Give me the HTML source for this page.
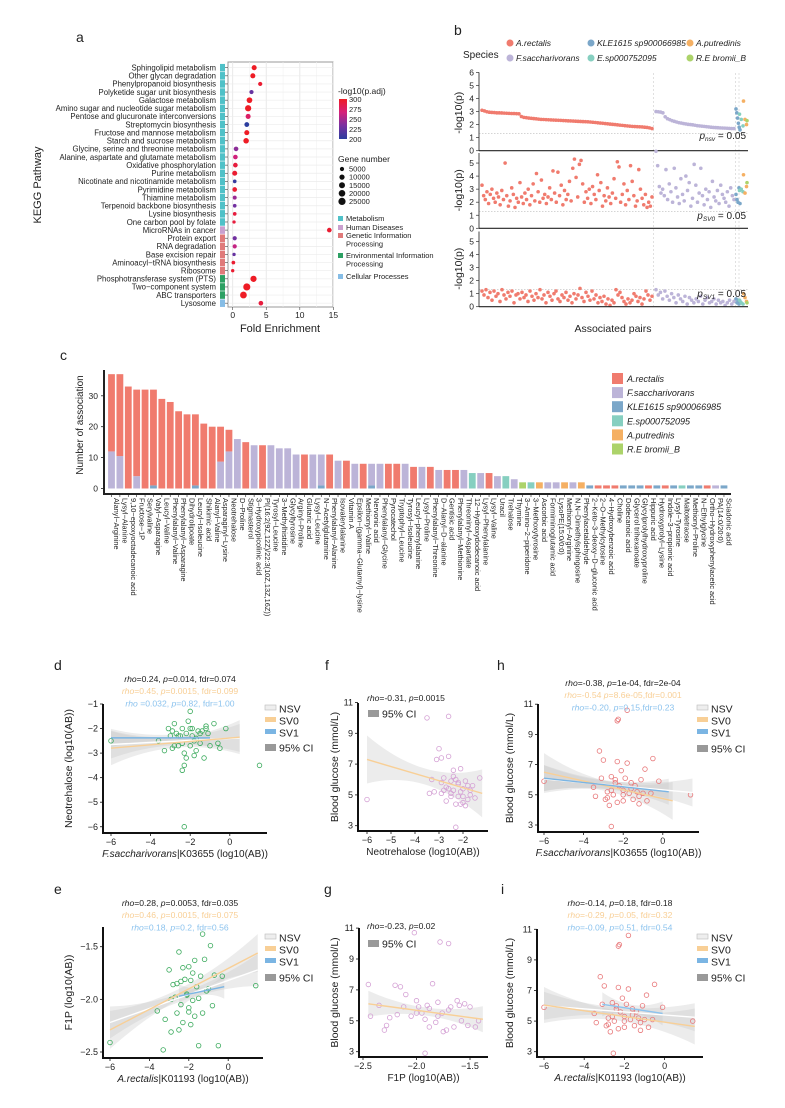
<!DOCTYPE html>
<html><head><meta charset="utf-8">
<style>
html,body{margin:0;padding:0;background:#fff;}
svg{display:block;font-family:"Liberation Sans",Arial,sans-serif;}
</style></head>
<body>
<svg id="fig" xmlns="http://www.w3.org/2000/svg" width="785" height="1108" viewBox="0 0 785 1108"></svg>
<script>
// ---------------- Panel a data ----------------
const aPathways=["Sphingolipid metabolism","Other glycan degradation","Phenylpropanoid biosynthesis","Polyketide sugar unit biosynthesis","Galactose metabolism","Amino sugar and nucleotide sugar metabolism","Pentose and glucuronate interconversions","Streptomycin biosynthesis","Fructose and mannose metabolism","Starch and sucrose metabolism","Glycine, serine and threonine metabolism","Alanine, aspartate and glutamate metabolism","Oxidative phosphorylation","Purine metabolism","Nicotinate and nicotinamide metabolism","Pyrimidine metabolism","Thiamine metabolism","Terpenoid backbone biosynthesis","Lysine biosynthesis","One carbon pool by folate","MicroRNAs in cancer","Protein export","RNA degradation","Base excision repair","Aminoacyl\u2212tRNA biosynthesis","Ribosome","Phosphotransferase system (PTS)","Two\u2212component system","ABC transporters","Lysosome"];
const aFold=[3.2,3.0,4.1,2.8,2.5,2.3,2.3,2.1,2.1,2.0,0.5,0.4,0.4,0.3,0.3,0.3,0.3,0.3,0.3,0.2,14.4,0.3,0.3,0.2,0.1,0.0,3.1,2.1,1.6,4.2];
const aGenes=[9000,9000,5000,5000,13000,17000,9000,8000,9000,12000,7000,7000,7000,9000,3000,7000,4000,3000,3000,2000,7000,5000,5000,2000,3000,2000,17000,24000,21000,7000];
const aPadj=[300,300,295,225,300,300,275,200,300,300,240,265,290,295,205,295,245,230,290,290,295,230,260,225,295,295,300,300,300,290];
const aCategory=[0,0,0,0,0,0,0,0,0,0,0,0,0,0,0,0,0,0,0,0,1,2,2,2,2,2,3,3,3,4];
const aCatNames=["Metabolism","Human Diseases","Genetic Information|Processing","Environmental Information|Processing","Cellular Processes"];
const aXTicks=[0,5,10,15];
const aColorTicks=[300,275,250,225,200];
const aSizeTicks=[5000,10000,15000,20000,25000];

// ---------------- Panel b data ----------------
const bTopRed=[3.1,3.05,2.98,2.95,2.93,2.92,2.9,2.9,2.89,2.88,2.87,2.86,2.85,2.85,2.84,2.83,2.62,2.55,2.53,2.5,2.48,2.46,2.44,2.42,2.4,2.39,2.38,2.37,2.36,2.35,2.34,2.33,2.32,2.31,2.3,2.29,2.28,2.27,2.26,2.25,2.24,2.23,2.22,2.21,2.2,2.18,2.16,2.14,2.12,2.1,2.08,2.06,2.04,2.02,2.0,1.98,1.96,1.94,1.92,1.9,1.88,1.86,1.85,1.84,1.83,1.82,1.8,1.78,1.75,1.7];
const bTopLav=[3.0,2.98,2.96,2.9,2.6,2.45,2.38,2.3,2.25,2.2,2.15,2.12,2.08,2.05,2.02,2.0,1.98,1.95,1.92,1.9,1.88,1.86,1.84,1.82,1.8,1.78,1.77,1.76,1.75,1.74,1.73,1.72,1.71,1.7,1.7];
const bTopBlue=[3.2,2.9,2.5,2.1,1.8,1.6];
const bTopTeal=[2.8,2.4,1.9];
const bTopOrange=[3.8,2.4,2.0];
const bTopGreen=[2.3];
const bMidRed=[3.3,2.5,2.2,2.8,1.9,2.6,3.0,2.3,2.0,2.7,2.4,1.8,2.9,2.2,5.0,2.5,1.7,2.1,3.1,2.6,1.6,2.3,2.0,3.5,2.4,1.9,2.7,2.2,3.0,1.8,2.5,3.4,2.1,4.2,2.8,2.0,3.7,2.3,2.6,1.9,2.4,3.1,2.2,4.4,2.7,2.0,4.3,2.5,3.3,1.8,2.9,2.2,2.6,3.6,2.1,4.6,5.3,3.9,2.4,4.9,5.2,3.4,2.0,2.8,2.3,3.0,1.9,3.2,2.6,2.2,4.1,2.9,3.5,1.7,2.5,2.1,3.1,2.4,1.9,2.7,3.8,2.3,5.1,4.7,2.0,2.6,3.4,1.8,2.9,2.2,4.8,3.6,2.5,1.7,2.1,4.5,3.0,2.3,1.8,2.6,1.6,2.0,1.7,2.4];
const bMidLav=[5.9,4.8,3.2,2.7,3.0,2.5,4.5,2.2,3.4,2.8,2.0,4.6,3.1,2.4,1.9,3.8,2.6,2.1,4.0,2.9,3.5,1.7,2.3,4.9,3.3,2.0,2.7,4.6,2.5,1.8,3.0,2.2,2.8,1.6,3.6,2.4,2.1,2.9,1.9,3.3,2.6,2.3,2.0,2.8,1.7,3.1,2.5,2.2];
const bMidBlue=[2.6,2.2,2.0,3.1,1.9];
const bMidTeal=[2.9,3.0,2.8];
const bMidOrange=[4.1,2.7,3.2];
const bMidGreen=[3.5];
const bBotRed=[1.2,0.9,1.3,0.7,1.1,0.5,1.2,0.8,1.0,0.4,1.3,0.9,0.6,1.1,0.8,1.2,0.3,0.9,1.0,0.6,1.1,0.7,0.9,0.4,1.2,0.8,0.5,1.0,0.7,1.3,0.6,0.9,0.3,1.1,0.8,0.5,1.0,1.2,0.6,0.4,0.9,0.7,1.1,0.5,0.8,0.3,1.0,0.6,0.9,1.4,0.7,0.4,1.1,0.8,0.5,1.2,0.6,0.9,0.3,0.7,0.4,0.8,0.2,0.6,0.1,0.5,0.3,1.3,0.9,1.1,0.7,0.4,0.2,0.6,0.3,0.5,1.0,0.8,0.4,0.7,0.2,0.6,1.2,0.9,0.5,0.8];
const bBotLav=[1.3,0.9,1.1,0.6,1.2,0.8,0.5,1.0,0.7,0.3,0.9,0.6,0.4,0.8,0.2,0.7,0.5,0.3,0.6,0.4,0.8,0.2,0.5,0.7,0.3,0.4,0.6,0.2,0.5,0.3,0.4,0.1,0.3,0.5,0.2,0.4];
const bBotBlue=[0.6,0.3,0.5,0.2,0.4];
const bBotTeal=[0.5,0.3,0.2];
const bBotOrange=[1.0,0.7,0.4];
const bBotGreen=[0.3];
const bTopTicks=[0,1,2,3,4,5,6];
const bSubTicks=[0,1,2,3,4,5];

// ---------------- Panel c data ----------------
const cNames=["Alanyl\u2212Arginine","Lysyl\u2212Alanine","9,10\u2212epoxyoctadecanoic acid","Fructose\u22121P","Serylvaline","Valyl\u2212Asparagine","Leucyl\u2212Valine","Phenylalanyl\u2212Valine","Phenylalanyl\u2212Asparagine","Dihydrolipoate","Leucyl\u2212Isoleucine","Shikimic acid","Alanyl\u2212Valine","Asparaginyl\u2212Lysine","Neotrehalose","D\u2212Proline","Stigmasterol","3\u2212Hydroxypicolinic acid","PI(16:2(9Z,12Z)/22:3(10Z,13Z,16Z))","Tyrosyl\u2212Leucine","3\u2212Methylhistidine","Glycyltyrosine","Arginyl\u2212Proline","Glutaric acid","Lysyl\u2212Leucine","N\u2212Acetylglutamine","Phenylalanyl\u2212Alanine","Isovalerylalanine","Vitamin A","Epsilon\u2212(gamma\u2212Glutamyl)\u2212lysine","Methionyl\u2212Valine","Nervonic acid","Phenylalanyl\u2212Glycine","Pyrocatechol","Tryptophyl\u2212Leucine","Tyrosyl\u2212Isoleucine","Leucyl\u2212phenylalanine","Lysyl\u2212Proline","Phenylalanyl\u2212Threonine","D\u2212Alanyl\u2212D\u2212alanine","Gentisic acid","Phenylalanyl\u2212Methionine","Threoninyl\u2212Aspartate","12\u2212Hydroxydodecanoic acid","Lysyl\u2212Phenylalanine","Lysyl\u2212Valine","Uracil","Trehalose","Thymine","3\u2212Amino\u22122\u2212piperidone","3\u2212Methoxytyrosine","Ascorbic acid","Formiminoglutamic acid","LysoPE(15:0/0:0)","Methionyl\u2212Arginine","N,N\u2212Dimethylsphingosine","Phenylacetaldehyde","2\u2212Keto\u22123\u2212deoxy\u2212D\u2212gluconic acid","2\u2212O\u2212Methylcytosine","4\u2212Hydroxybenzoic acid","Choline","Dodecanoic acid","Glycerol trihexanoate","Glycylprolylhydroxyproline","Hippuric acid","Hydroxyprolyl\u2212Lysine","Indole\u22123\u2212propionic acid","Lysyl\u2212Tyrosine","Maltotetraose","Methionyl\u2212Proline","N\u2212Ethylglycine","Ortho\u2212Hydroxyphenylacetic acid","PA(14:0/20:0)","Sciadonic acid"];
const cKLE=[0,0,0,0,0,1,0,0,0,0, 1,0,0,0,0,0,0,0,0,0, 0,0,0,0,0,1,0,0,0,0, 0,1,0,0,0,0,0,0,0,0, 0,0,0,0,0,0,0,0,0,0, 0,0,0,0,0,0,0,1,0,0, 0,1,1,1,0,1,0,1,0,1, 1,0,0,1];
const cFsac=[12,10.5,0,4,0,0,0,0,0,0, 0,0,0,8.7,12,16,0,14,0,14, 13,13,11,0,11,10,0,9,0,8, 0,7,8,0,0,8,0,7,0,6, 0,0,6,0,5,0,4,0,3,0, 0,0,2,2,0,2,0,0,0,0, 0,0,0,0,0,0,0,0,0,0, 0,0,1,0];
const cArec=[25,26.5,33,28,32,31,29,28,25,24, 23,21,20,11.3,7,0,15,0,14,0, 0,0,0,11,0,0,11,0,9,0, 8,0,0,8,8,0,7,0,7,0, 6,6,0,0,0,5,0,0,0,0, 0,0,0,0,0,0,0,0,1,1, 1,0,0,0,1,0,1,0,0,0, 0,1,0,0];
const cEsp=[0,0,0,0,0,0,0,0,0,0, 0,0,0,0,0,0,0,0,0,0, 0,0,0,0,0,0,0,0,0,0, 0,0,0,0,0,0,0,0,0,0, 0,0,0,5,0,0,0,4,0,0, 2,0,0,0,0,0,0,0,0,0, 0,0,0,0,0,0,0,0,1,0, 0,0,0,0];
const cAput=[0,0,0,0,0,0,0,0,0,0, 0,0,0,0,0,0,0,0,0,0, 0,0,0,0,0,0,0,0,0,0, 0,0,0,0,0,0,0,0,0,0, 0,0,0,0,0,0,0,0,0,0, 0,2,0,0,2,0,2,0,0,0, 0,0,0,0,0,0,0,0,0,0, 0,0,0,0];
const cRbro=[0,0,0,0,0,0,0,0,0,0, 0,0,0,0,0,0,0,0,0,0, 0,0,0,0,0,0,0,0,0,0, 0,0,0,0,0,0,0,0,0,0, 0,0,0,0,0,0,0,0,0,2, 0,0,0,0,0,0,0,0,0,0, 0,0,0,0,0,0,0,0,0,0, 0,0,0,0];
const cYTicks=[0,10,20,30];
const speciesNames=["A.rectalis","F.saccharivorans","KLE1615 sp900066985","E.sp000752095","A.putredinis","R.E bromii_B"];

// ---------------- Panels d-i data ----------------
const dX=[-6,-3.6,-3.3,-3.1,-3.0,-2.9,-2.8,-2.7,-2.6,-2.5,-2.4,-2.3,-2.3,-2.2,-2.2,-2.1,-2.0,-2.0,-1.9,-1.9,-1.8,-1.8,-1.7,-1.6,-1.5,-1.4,-1.3,-1.2,-1.1,-1.0,-0.8,-0.6,-0.5,-0.2,1.5,-2.3,-2.4,-2.4,-2.0,-1.7,-2.6,-2.9,-1.2,-2.8,-1.5];
const dY=[-2.5,-2.5,-2.9,-2.0,-2.3,-2.8,-1.8,-2.2,-2.7,-2.3,-2.0,-3.0,-3.5,-2.2,-3.2,-1.7,-1.3,-2.7,-2.3,-2.0,-3.1,-2.5,-2.4,-2.1,-2.6,-2.1,-3.2,-1.9,-2.2,-2.7,-1.8,-2.6,-2.8,-2.0,-3.5,-6.0,-3.7,-2.6,-2.0,-2.9,-2.3,-2.1,-2.0,-2.7,-2.2];
const dXTicks=[-6,-4,-2,0]; const dYTicks=[-1,-2,-3,-4,-5,-6];
const dFitNSV=[-6,-2.65,0.5,-2.38]; const dFitSV0=[-6,-2.8,0.5,-2.35]; const dFitSV1=[-6,-2.38,-1,-2.38];
const fX=[-6,-3.5,-2.6,-2.3,-3.4,-3.3,-3.1,-3.0,-2.9,-2.9,-2.8,-2.7,-2.7,-2.6,-2.5,-2.5,-2.4,-2.4,-2.3,-2.3,-2.2,-2.2,-2.1,-2.1,-2.0,-2.0,-1.9,-1.9,-1.8,-1.8,-1.7,-1.6,-1.5,-1.3,-2.8,-2.6,-2.4,-2.2,-2.0,-3.2,-2.9,-2.5,-2.1,-1.7];
const fY=[4.7,10.0,10.1,2.9,5.1,6.0,7.3,8.0,7.4,5.1,6.1,4.6,5.5,7.5,5.9,4.9,6.6,5.3,6.0,4.4,5.7,4.9,6.7,5.2,5.4,4.5,5.9,4.3,5.6,4.7,5.0,5.6,4.8,6.1,5.3,5.4,6.2,5.8,4.9,5.2,5.8,5.1,4.4,5.3];
const fXTicks=[-6,-5,-4,-3,-2]; const gluTicks=[3,5,7,9,11];
const fFitSV0=[-6,7.3,-1.2,5.1];
const hX=[-6,-2.3,-2.25,-1.8,1.4,-2.6,-3.5,-3.4,-3.1,-3.0,-2.9,-2.8,-2.7,-2.6,-2.5,-2.4,-2.3,-2.3,-2.2,-2.1,-2.0,-2.0,-1.9,-1.8,-1.7,-1.6,-1.5,-1.4,-1.3,-1.2,-1.1,-1.0,-0.9,-0.8,-0.6,-0.5,-0.2,-2.8,-2.4,-2.0,-1.6,-1.2,-3.2,-2.6];
const hY=[5.9,9.9,10.0,10.6,5.0,2.9,5.5,4.9,6.1,7.3,4.7,5.2,4.3,6.2,5.0,6.0,7.2,4.5,5.6,6.6,5.3,4.6,6.1,7.1,5.1,5.8,4.7,5.6,5.2,4.4,6.0,5.1,6.7,4.6,5.1,7.4,5.9,4.8,5.8,5.0,5.4,4.9,7.9,5.3];
const hXTicks=[-6,-4,-2,0];
const hFitNSV=[-6,6.05,1.5,5.15]; const hFitSV0=[-6,6.5,0.5,4.6]; const hFitSV1=[-6,6.1,0.3,5.2];
const eX=[-6,-3.6,-3.3,-3.2,-3.0,-2.9,-2.8,-2.7,-2.6,-2.5,-2.5,-2.4,-2.3,-2.3,-2.2,-2.1,-2.0,-2.0,-1.9,-1.9,-1.8,-1.7,-1.7,-1.6,-1.5,-1.4,-1.3,-1.3,-1.2,-1.1,-1.0,-0.9,-0.8,-0.7,-0.5,-0.3,1.4,-2.9,-2.4,-2.1,-1.8,-1.5,-2.6,-2.0];
const eY=[-2.41,-2.11,-2.48,-2.19,-1.72,-2.31,-1.86,-1.98,-2.13,-1.55,-2.29,-2.05,-1.70,-2.22,-1.81,-1.95,-1.69,-2.08,-2.24,-1.82,-2.01,-1.63,-2.16,-1.88,-2.44,-1.78,-1.38,-2.13,-1.62,-1.92,-1.90,-1.49,-2.06,-1.77,-2.44,-1.78,-1.87,-2.0,-1.83,-1.96,-1.75,-1.99,-1.85,-2.12];
const eXTicks=[-6,-4,-2,0]; const eYTicks=[-1.5,-2.0,-2.5];
const eFitNSV=[-6,-2.22,1.5,-1.72]; const eFitSV0=[-6,-2.29,1.5,-1.56]; const eFitSV1=[-2.5,-1.97,-0.2,-1.88];
const gX=[-2.45,-2.43,-2.35,-2.3,-2.28,-2.2,-2.18,-2.15,-2.1,-2.05,-2.02,-2.0,-1.98,-1.95,-1.92,-1.9,-1.88,-1.85,-1.82,-1.8,-1.78,-1.76,-1.72,-1.7,-1.68,-1.65,-1.62,-1.6,-1.58,-1.55,-1.52,-1.5,-1.45,-1.42,-2.25,-2.12,-2.0,-1.88,-1.75,-1.92,-1.8,-1.7];
const gY=[7.35,5.3,6.0,4.4,4.7,7.3,5.4,7.2,6.7,5.3,10.7,6.3,5.9,5.5,5.1,6.0,4.6,7.4,4.9,6.2,10.1,5.5,4.4,10.0,5.9,4.6,6.3,6.0,5.0,6.1,4.7,5.9,4.6,5.0,5.2,5.9,5.5,5.8,4.3,2.9,5.3,5.7];
const gXTicks=[-2.5,-2.0,-1.5];
const gFitSV0=[-2.45,6.1,-1.38,5.1];
const iX=[-6,-2.3,-2.25,-1.8,1.4,-2.55,-3.5,-3.4,-3.1,-3.0,-2.9,-2.8,-2.7,-2.6,-2.5,-2.4,-2.3,-2.3,-2.2,-2.1,-2.0,-2.0,-1.9,-1.8,-1.7,-1.6,-1.5,-1.4,-1.3,-1.2,-1.1,-1.0,-0.9,-0.8,-0.6,-0.5,-0.1,-2.8,-2.4,-2.0,-1.6,-1.2,-3.2,-2.6];
const iY=[5.9,9.9,10.0,10.6,5.0,2.9,5.5,4.9,6.1,7.3,4.7,5.2,4.3,6.2,5.0,6.0,7.2,4.5,5.6,6.5,5.3,4.6,6.1,7.1,5.1,5.8,4.7,5.6,5.2,4.4,6.0,5.1,6.7,4.6,5.1,7.4,5.9,4.8,5.8,5.0,5.4,4.9,7.9,5.3];
const iFitNSV=[-6,6.0,1.5,5.25]; const iFitSV0=[-6,6.05,1.5,4.65]; const iFitSV1=[-3.1,6.1,-0.1,5.5];

// ---------------- Helpers ----------------
const NS="http://www.w3.org/2000/svg";
const svg=document.getElementById('fig');
function mk(tag,attrs,parent){const e=document.createElementNS(NS,tag);for(const k in attrs)e.setAttribute(k,attrs[k]);(parent||svg).appendChild(e);return e;}
function txt(x,y,s,size,anchor,parent,extra){const t=mk('text',Object.assign({x:x,y:y,'font-size':size,'text-anchor':anchor||'start',fill:'#222'},extra||{}),parent);t.textContent=s;return t;}
function grp(name){const g=mk('g',{});return g;}
const COL={R:'#f07b6e',F:'#bcb4d8',K:'#7ba7c9',E:'#86cfc0',P:'#f5b063',B:'#acd36a'};

// ---------------- Panel letters ----------------
const letters=[["a",76,42],["b",454,35],["c",60,360],["d",54,670],["f",325,670],["h",497,670],["e",54,894],["g",324,894],["i",501,894]];
letters.forEach(l=>{const t=txt(l[1],l[2],l[0],14,'start');});

// ---------------- Panel a ----------------
(function(){
const g=grp('panel-a-kegg-dotplot');
const x0=232.7,ux=6.71,y0=67.7,uy=8.12;
const X=v=>x0+v*ux, Y=i=>y0+i*uy;
const box=mk('rect',{x:228,y:62,width:105,height:245,fill:'#fff',stroke:'#999','stroke-width':1},g);

[2.5,7.5,12.5].forEach(v=>mk('line',{x1:X(v),x2:X(v),y1:62,y2:307,stroke:'#f2f2f2','stroke-width':0.6},g));
aXTicks.forEach(v=>{mk('line',{x1:X(v),x2:X(v),y1:62,y2:307,stroke:'#e6e6e6','stroke-width':0.9},g);
 mk('line',{x1:X(v),x2:X(v),y1:307,y2:310,stroke:'#444','stroke-width':0.6},g);
 const t=txt(X(v),318,String(v),8.5,'middle',g);});
const catCols=['#4fc1c8','#c9a0cf','#e07a7a','#2ca063','#86bde6'];
aPathways.forEach((p,i)=>{
 mk('line',{x1:228,x2:333,y1:Y(i),y2:Y(i),stroke:'#ececec','stroke-width':0.7},g);
 mk('line',{x1:225,x2:228,y1:Y(i),y2:Y(i),stroke:'#444','stroke-width':0.6},g);
 const t=txt(216,Y(i)+2.8,p,7.8,'end',g);
 const s=mk('rect',{x:220,y:Y(i)-uy/2+0.3,width:5,height:uy-0.6,fill:catCols[aCategory[i]]},g);
 
});
function colFor(v){const t=Math.max(0,Math.min(1,(v-200)/100));
 const stops=[[43,61,158],[122,48,160],[214,32,122],[238,28,37]];const k=t*3,i=Math.min(2,Math.floor(k)),f=k-i;
 const c=stops[i].map((a,j)=>Math.round(a+(stops[i+1][j]-a)*f));return 'rgb('+c+')';}
const rFor=n=>0.9+Math.sqrt(n/25000)*2.7;
aFold.forEach((v,i)=>{const c=mk('circle',{cx:X(v),cy:Y(i),r:rFor(aGenes[i]),fill:colFor(aPadj[i])},g);
 });
let t=txt(280,332,'Fold Enrichment',11,'middle',g);
t=txt(0,0,'KEGG Pathway',11,'middle',g,{transform:'translate(41,185) rotate(-90)'});
const defs=mk('defs',{});const lg=mk('linearGradient',{id:'cb',x1:0,y1:0,x2:0,y2:1},defs);
[[0,'#ee1c25'],[0.33,'#d6207a'],[0.66,'#7a30a0'],[1,'#2b3d9e']].forEach(s=>mk('stop',{offset:s[0],'stop-color':s[1]},lg));
t=txt(338,94,'-log10(p.adj)',8.5,'start',g);
const cb=mk('rect',{x:339,y:99,width:8,height:40,fill:'url(#cb)'},g);
aColorTicks.forEach(v=>{const yy=99+(300-v)/100*40;const tt=txt(349,yy+2.8,String(v),7.5,'start',g);});
t=txt(338,162,'Gene number',8.5,'start',g);
aSizeTicks.forEach((v,i)=>{const yy=169+i*8.1;const c=mk('circle',{cx:342,cy:yy,r:rFor(v),fill:'#111'},g);
 const tt=txt(349,yy+2.6,String(v),7.5,'start',g);});
const catY=[221,230,238,258,279];
aCatNames.forEach((n,i)=>{const r=mk('rect',{x:338,y:catY[i]-5,width:5,height:5,fill:catCols[i]},g);
 n.split('|').forEach((part,j)=>{const tt=txt(346,catY[i]+j*8.6,part,7.5,'start',g);});});
})();

// ---------------- Panel b ----------------
(function(){
const g=grp('panel-b-manhattan');
const L=479,R=748,u=13.05;
const panels=[{base:150.7,ticks:bTopTicks,lab:'nsv',d:[bTopRed,bTopLav,bTopBlue,bTopTeal,bTopOrange,bTopGreen],ty:139},
{base:228.3,ticks:bSubTicks,lab:'SV0',d:[bMidRed,bMidLav,bMidBlue,bMidTeal,bMidOrange,bMidGreen],ty:219},
{base:306.7,ticks:bSubTicks,lab:'SV1',d:[bBotRed,bBotLav,bBotBlue,bBotTeal,bBotOrange,bBotGreen],ty:297}];
const ranges=[[482,652],[656,734],[736,740],[739.5,743],[743.5,746.5],[747,747]];
const cols=[COL.R,COL.F,COL.K,COL.E,COL.P,COL.B];
[653.5,735.5,739].forEach(x=>{const l=mk('line',{x1:x,x2:x,y1:73,y2:306,stroke:'#ccc','stroke-width':0.6,'stroke-dasharray':'2,2'},g);});
panels.forEach((p,pi)=>{
 const Y=v=>p.base-v*u;
 const th=mk('line',{x1:L,x2:R,y1:Y(1.3),y2:Y(1.3),stroke:'#bbb','stroke-width':0.6,'stroke-dasharray':'1.5,1.5'},g);
 p.d.forEach((arr,gi)=>{const [a,b]=ranges[gi];arr.forEach((v,i)=>{const x=arr.length>1?a+(b-a)*i/(arr.length-1):a;
  const c=mk('circle',{cx:x,cy:Y(v),r:1.8,fill:cols[gi]},g);});});
 const ax=mk('line',{x1:L,x2:L,y1:Y(p.ticks[p.ticks.length-1])-(pi==0?0:10),y2:p.base,stroke:'#333','stroke-width':0.9},g);
 const bx=mk('line',{x1:L,x2:R,y1:p.base,y2:p.base,stroke:'#222','stroke-width':1.2},g);
 p.ticks.forEach(v=>{mk('line',{x1:L-3,x2:L,y1:Y(v),y2:Y(v),stroke:'#333','stroke-width':0.7},g);const t=txt(L-5,Y(v)+3,String(v),8.5,'end',g);});
 const yt=txt(0,0,'-log10(p)',10.5,'middle',g,{transform:'translate('+(L-17)+','+(p.base-38)+') rotate(-90)'});
 const pt=mk('text',{x:746,y:p.ty,'font-size':10,'text-anchor':'end',fill:'#222'},g);
 const s1=mk('tspan',{'font-style':'italic'},pt);s1.textContent='p';const s2=mk('tspan',{'font-size':6.5,dy:2,'font-style':'italic'},pt);s2.textContent=p.lab;const s3=mk('tspan',{dy:-2},pt);s3.textContent=' = 0.05';
});
let t=txt(613,332,'Associated pairs',10.5,'middle',g);
t=txt(463,58,'Species',10,'start',g);
const lp=[[510,46],[510,61],[591,46],[591,61],[690,46],[690,61]];
speciesNames.forEach((n,i)=>{const c=mk('circle',{cx:lp[i][0],cy:lp[i][1]-3,r:3.5,fill:cols[i]},g);
 const tt=txt(lp[i][0]+6,lp[i][1],n,8.5,'start',g,{'font-style':'italic'});});
})();

// ---------------- Panel c ----------------
(function(){
const g=grp('panel-c-stacked-bars');
const x0=111.5,px=8.39,bw=6.8,base=488.5,u=3.09;
const X=i=>x0+i*px, Y=v=>base-v*u;
const stackOrder=[[cKLE,COL.K],[cFsac,COL.F],[cArec,COL.R],[cEsp,COL.E],[cAput,COL.P],[cRbro,COL.B]];
cNames.forEach((n,i)=>{let acc=0;
 stackOrder.forEach(([arr,col])=>{const v=arr[i];if(v>0){const r=mk('rect',{x:X(i)-bw/2,y:Y(acc+v),width:bw,height:v*u,fill:col},g);acc+=v;}});
 const t=txt(0,0,n,7.4,'start',g,{transform:'translate('+(X(i)+2.6)+',498) rotate(90)'});
});
const ya=mk('line',{x1:104,x2:104,y1:370,y2:494.5,stroke:'#222','stroke-width':2},g);
const xa=mk('line',{x1:103,x2:731,y1:494,y2:494,stroke:'#222','stroke-width':2},g);
cNames.forEach((n,i)=>mk('line',{x1:X(i),x2:X(i),y1:495,y2:497,stroke:'#222','stroke-width':0.6},g));
cYTicks.forEach(v=>{mk('line',{x1:101,x2:104,y1:Y(v),y2:Y(v),stroke:'#222','stroke-width':0.8},g);const t=txt(98,Y(v)+3,String(v),8.5,'end',g);});
let t=txt(0,0,'Number of association',10,'middle',g,{transform:'translate(83,425) rotate(-90)'});
const cols=[COL.R,COL.F,COL.K,COL.E,COL.P,COL.B];
speciesNames.forEach((n,i)=>{const yy=373+i*14.1;const r=mk('rect',{x:612,y:yy,width:11,height:11,fill:cols[i]},g);
 const tt=txt(627,yy+9,n,9,'start',g,{'font-style':'italic'});});
})();

// ---------------- Scatter panels ----------------
function scatter(c){
 const g=grp(c.name);
 const X=v=>c.xa+(v-c.xv0)*c.ux, Y=v=>c.ya+(v-c.yv0)*c.uy;
 c.fits.forEach(f=>{const [x1,y1,x2,y2]=f.d;const xm=(x1+x2)/2,half=(x2-x1)/2;const top=[],bot=[];
  for(let k=0;k<=20;k++){const xv=x1+(x2-x1)*k/20;const yv=y1+(y2-y1)*(xv-x1)/(x2-x1);const w=f.w0+f.w1*Math.pow((xv-xm)/half,2);
   top.push(X(xv)+','+(Y(yv)-w));bot.unshift(X(xv)+','+(Y(yv)+w));}
  const p=mk('polygon',{points:top.concat(bot).join(' '),fill:'#c8c8c8','fill-opacity':0.35},g);});
 c.xs.forEach((xv,i)=>{const p=mk('circle',{cx:X(xv),cy:Y(c.ys[i]),r:2.3,fill:'none',stroke:c.pc,'stroke-width':0.8},g);});
 c.fits.forEach(f=>{const [x1,y1,x2,y2]=f.d;const l=mk('line',{x1:X(x1),y1:Y(y1),x2:X(x2),y2:Y(y2),stroke:f.col,'stroke-width':1.4},g);});
 const ya=mk('line',{x1:c.L,x2:c.L,y1:c.T,y2:c.B+1,stroke:'#111','stroke-width':2},g);
 const xa=mk('line',{x1:c.L-1,x2:c.R,y1:c.B,y2:c.B,stroke:'#111','stroke-width':2},g);
 c.xt.forEach(v=>{mk('line',{x1:X(v),x2:X(v),y1:c.B,y2:c.B+3,stroke:'#111','stroke-width':0.8},g);const t=txt(X(v),c.B+12,(v<0?'\u2212':'')+c.fmtx(Math.abs(v)),9,'middle',g);});
 c.yt.forEach(v=>{mk('line',{x1:c.L-3,x2:c.L,y1:Y(v),y2:Y(v),stroke:'#111','stroke-width':0.8},g);const t=txt(c.L-5,Y(v)+3,(v<0?'\u2212':'')+c.fmty(Math.abs(v)),9,'end',g);});
 const yt=txt(0,0,c.ytitle,10.5,'middle',g,{transform:'translate('+c.ytx+','+((c.T+c.B)/2)+') rotate(-90)'});
 const xt=mk('text',{x:(c.L+c.R)/2,y:c.B+24,'font-size':10,'text-anchor':'middle',fill:'#222'},g);
 if(c.xit){const s=mk('tspan',{'font-style':'italic'},xt);s.textContent=c.xit;}const s2=mk('tspan',{},xt);s2.textContent=c.xtitle;
 c.stats.forEach((s,i)=>{const t=mk('text',{x:c.sx,y:c.sy+i*12.2,'font-size':8.6,'text-anchor':c.sa,fill:s[1]},g);
  s[0].split('|').forEach((part,j)=>{const sp=mk('tspan',j%2==0?{'font-style':'italic'}:{},t);sp.textContent=part;});});
 c.legend.forEach((l,i)=>{const yy=c.ly[i];const r=mk('rect',{x:c.lx,y:yy-4,width:11,height:l[2]?7:5,fill:l[1],stroke:l[3]||'none','stroke-width':0.6},g);
  const t=txt(c.lx+14,yy+3.5,l[0],10.5,'start',g);});
}
const ORG='#f8cf96',BLU='#7bb5e3',LBL='#8cc3ee';
const f1=v=>String(v), f15=v=>v.toFixed(1);
const fullLeg=[['NSV','#eee',0,'#bbb'],['SV0',ORG,0],['SV1',BLU,0],['95% CI','#999',1]];
scatter({name:'panel-d-scatter',xs:dX,ys:dY,pc:'#3aaa5c',xa:111,xv0:-6,ux:19.8,ya:704,yv0:-1,uy:-24.55,L:103,R:267,T:704,B:833,xt:dXTicks,yt:dYTicks,fmtx:f1,fmty:f1,
 ytitle:'Neotrehalose (log10(AB))',ytx:72,xit:'F.saccharivorans',xtitle:'|K03655 (log10(AB))',
 fits:[{d:dFitNSV,col:'#fff',w0:4,w1:10,key:'nsv'},{d:dFitSV0,col:ORG,w0:5,w1:12,key:'sv0'},{d:dFitSV1,col:BLU,w0:3,w1:6,key:'sv1'}],
 stats:[['rho|=0.24, |p|=0.014, fdr=0.074','#222'],['rho|=0.45, |p|=0.0015, fdr=0.099',ORG],['rho| =0.032, |p|=0.82, fdr=1.00',LBL]],sx:180,sy:682,sa:'middle',
 legend:fullLeg,lx:265,ly:[709,721,733,748]});
scatter({name:'panel-f-scatter',xs:fX,ys:fY,pc:'#d4a0d4',xa:367,xv0:-6,ux:24,ya:825.7,yv0:3,uy:-15.4,L:358,R:488,T:703,B:831,xt:fXTicks,yt:gluTicks,fmtx:f1,fmty:f1,
 ytitle:'Blood glucose (mmol/L)',ytx:338,xit:'',xtitle:'Neotrehalose (log10(AB))',
 fits:[{d:fFitSV0,col:ORG,w0:8,w1:16,key:'sv0'}],
 stats:[['rho|=-0.31, |p|=0.0015','#222']],sx:367,sy:701,sa:'start',
 legend:[['95% CI','#999',1]],lx:368,ly:[714]});
scatter({name:'panel-h-scatter',xs:hX,ys:hY,pc:'#e8787a',xa:544,xv0:-6,ux:19.8,ya:825,yv0:3,uy:-15.1,L:538,R:699,T:704,B:832,xt:hXTicks,yt:gluTicks,fmtx:f1,fmty:f1,
 ytitle:'Blood glucose (mmol/L)',ytx:513,xit:'F.saccharivorans',xtitle:'|K03655 (log10(AB))',
 fits:[{d:hFitNSV,col:'#fff',w0:4,w1:10,key:'nsv'},{d:hFitSV0,col:ORG,w0:5,w1:14,key:'sv0'},{d:hFitSV1,col:BLU,w0:4,w1:9,key:'sv1'}],
 stats:[['rho|=-0.38, |p|=1e-04, fdr=2e-04','#222'],['rho|=-0.54 |p|=8.6e-05,fdr=0.001',ORG],['rho|=-0.20, |p|=0.15,fdr=0.23',LBL]],sx:623,sy:686,sa:'middle',
 legend:fullLeg,lx:697,ly:[709,721,733,749]});
scatter({name:'panel-e-scatter',xs:eX,ys:eY,pc:'#3aaa5c',xa:110,xv0:-6,ux:19.7,ya:946.7,yv0:-1.5,uy:-105.3,L:103,R:263,T:927,B:1058,xt:eXTicks,yt:eYTicks,fmtx:f1,fmty:f15,
 ytitle:'F1P (log10(AB))',ytx:72,xit:'A.rectalis',xtitle:'|K01193 (log10(AB))',
 fits:[{d:eFitNSV,col:'#fff',w0:4,w1:12,key:'nsv'},{d:eFitSV0,col:ORG,w0:5,w1:14,key:'sv0'},{d:eFitSV1,col:BLU,w0:4,w1:8,key:'sv1'}],
 stats:[['rho|=0.28, |p|=0.0053, fdr=0.035','#222'],['rho|=0.46, |p|=0.0015, fdr=0.075',ORG],['rho|=0.18, |p|=0.2, fdr=0.56',LBL]],sx:180,sy:906,sa:'middle',
 legend:fullLeg,lx:265,ly:[938,950,962,978]});
scatter({name:'panel-g-scatter',xs:gX,ys:gY,pc:'#d4a0d4',xa:363,xv0:-2.5,ux:107,ya:1051.7,yv0:3,uy:-15.45,L:359,R:488,T:928,B:1057,xt:gXTicks,yt:gluTicks,fmtx:f15,fmty:f1,
 ytitle:'Blood glucose (mmol/L)',ytx:338,xit:'',xtitle:'F1P (log10(AB))',
 fits:[{d:gFitSV0,col:ORG,w0:4,w1:9,key:'sv0'}],
 stats:[['rho|=-0.23, |p|=0.02','#222']],sx:367,sy:929,sa:'start',
 legend:[['95% CI','#999',1]],lx:368,ly:[944]});
scatter({name:'panel-i-scatter',xs:iX,ys:iY,pc:'#e8787a',xa:544,xv0:-6,ux:20.1,ya:1051.7,yv0:3,uy:-15.3,L:537,R:703,T:929,B:1057,xt:hXTicks,yt:gluTicks,fmtx:f1,fmty:f1,
 ytitle:'Blood glucose (mmol/L)',ytx:513,xit:'A.rectalis',xtitle:'|K01193 (log10(AB))',
 fits:[{d:iFitNSV,col:'#fff',w0:4,w1:10,key:'nsv'},{d:iFitSV0,col:ORG,w0:5,w1:13,key:'sv0'},{d:iFitSV1,col:LBL,w0:4,w1:8,key:'sv1'}],
 stats:[['rho|=-0.14, |p|=0.18, fdr=0.18','#222'],['rho|=-0.29, |p|=0.05, fdr=0.32',ORG],['rho|=-0.09, |p|=0.51, fdr=0.54',LBL]],sx:620,sy:906,sa:'middle',
 legend:fullLeg,lx:697,ly:[938,950,962,978]});
</script>
</body></html>
